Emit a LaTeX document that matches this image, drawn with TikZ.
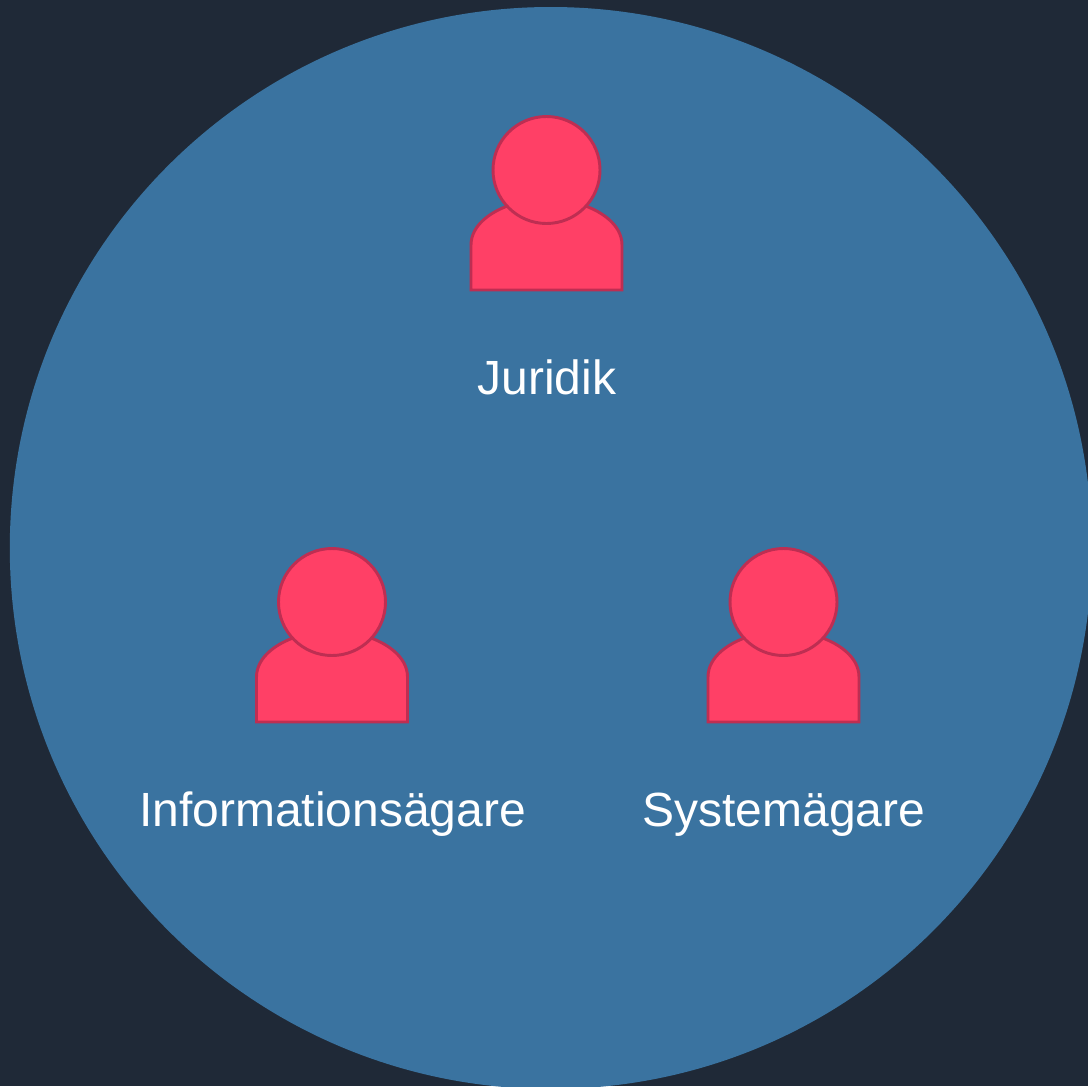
\documentclass[tikz,border=0pt]{standalone}
\usepackage{fontspec}
\setmainfont{Liberation Sans}
\definecolor{bgc}{HTML}{1F2937}
\definecolor{discc}{HTML}{3A73A0}
\definecolor{pf}{HTML}{FF4066}
\definecolor{ps}{HTML}{BE2E52}
\tikzset{
  personpart/.style={fill=pf,draw=ps,line width=2.2pt},
  lbl/.style={text=white,font=\fontsize{36}{40}\selectfont,inner sep=0pt,anchor=base},
}
\newcommand{\person}[2]{%
  \begin{scope}[x=0.75pt,y=-0.75pt,shift={(#1*0.75pt,-#2*0.75pt)}]
    \path[personpart] (-75.5,120) -- (-75.5,75) .. controls (-75.5,55) and (-55,40) .. (-30,33) -- (30,33) .. controls (55,40) and (75.5,55) .. (75.5,75) -- (75.5,120) -- cycle;
    \path[personpart] (0,0) circle [radius=53.5];
  \end{scope}}
\begin{document}
\begin{tikzpicture}[x=0.75pt,y=-0.75pt]
\useasboundingbox (0,0) rectangle (1088,1086);
\fill[bgc] (0,0) rectangle (1088,1086);
\begin{scope}
\clip (0,0) rectangle (1088,1086);
\fill[discc] (550.8,548) circle [radius=541];
\end{scope}
\person{546.5}{170}
\person{332}{602}
\person{783.5}{602}
\node[lbl] (juridik) at (546.7,394) {Juridik};
\node[lbl] (info) at (332.5,826) {Informationsägare};
\node[lbl] (sys) at (783.7,826) {Systemägare};
\end{tikzpicture}
\end{document}
